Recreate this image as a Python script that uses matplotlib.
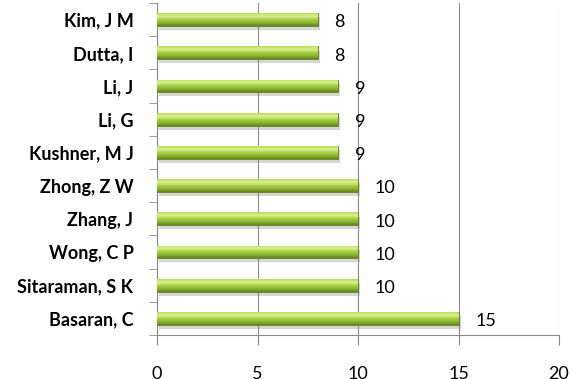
import numpy as np
import matplotlib.pyplot as plt
import matplotlib.patheffects as pe
from matplotlib.colors import LinearSegmentedColormap

autores = ["Basaran, C", "Sitaraman, S K", "Wong, C P", "Zhang, J", "Zhong, Z W",
           "Kushner, M J", "Li, G", "Li, J", "Dutta, I", "Kim, J M"]
valores = [15, 10, 10, 10, 10, 9, 9, 9, 8, 8]
xticks = [0, 5, 10, 15, 20]

plt.rcParams['font.family'] = ['Lato', 'DejaVu Sans']

fig = plt.figure(figsize=(5.72, 3.79), dpi=100)
ax = fig.add_axes([157 / 572, 1 - 335 / 379, (559 - 157) / 572, (335 - 3) / 379])

y = np.arange(len(autores))
barras = ax.barh(y, valores, height=0.38, color="#9bc33c", edgecolor="#5f7f1f",
                 linewidth=0.6, zorder=3)

# gradiente estilo excel
cmap = LinearSegmentedColormap.from_list("verde", ["#62821c", "#8cb532", "#a9d046", "#dcf394", "#b7da55"])
grad = np.linspace(0, 1, 64).reshape(-1, 1)
for b in barras:
    b.set_path_effects([pe.SimplePatchShadow(offset=(1.5, -3), shadow_rgbFace="#888888", alpha=0.35),
                        pe.Normal()])
    x0, y0, w, h = b.get_x(), b.get_y(), b.get_width(), b.get_height()
    im = ax.imshow(grad, cmap=cmap, aspect="auto", extent=(x0, x0 + w, y0, y0 + h),
                   origin="lower", zorder=4, interpolation="bicubic")
    im.set_clip_path(b)

for v, yy in zip(valores, y):
    ax.annotate(str(v), xy=(v, yy), xytext=(12, -2), textcoords="offset points",
                va="center", ha="left", fontsize=13, color="black")

ax.set_xlim(0, 20)
ax.set_ylim(-0.5, len(autores) - 0.5)
ax.set_xticks(xticks)
ax.set_xticklabels([str(t) for t in xticks], fontsize=13)
ax.set_yticks(y)
ax.set_yticklabels(autores, fontsize=13, fontweight="bold")
ax.set_yticks(np.arange(-0.5, len(autores), 1), minor=True)

ax.tick_params(axis="y", which="major", length=0, pad=17)
ax.tick_params(axis="y", which="minor", length=6, color="#888888")
ax.tick_params(axis="x", length=7, color="#888888", pad=15)

ax.grid(axis="x", color="#8c8c8c", linewidth=0.8, zorder=0)
for s in ["top", "right"]:
    ax.spines[s].set_visible(False)
ax.spines["left"].set_color("#888888")
ax.spines["bottom"].set_color("#888888")
ax.set_axisbelow(True)

plt.savefig("out.png", dpi=100)
